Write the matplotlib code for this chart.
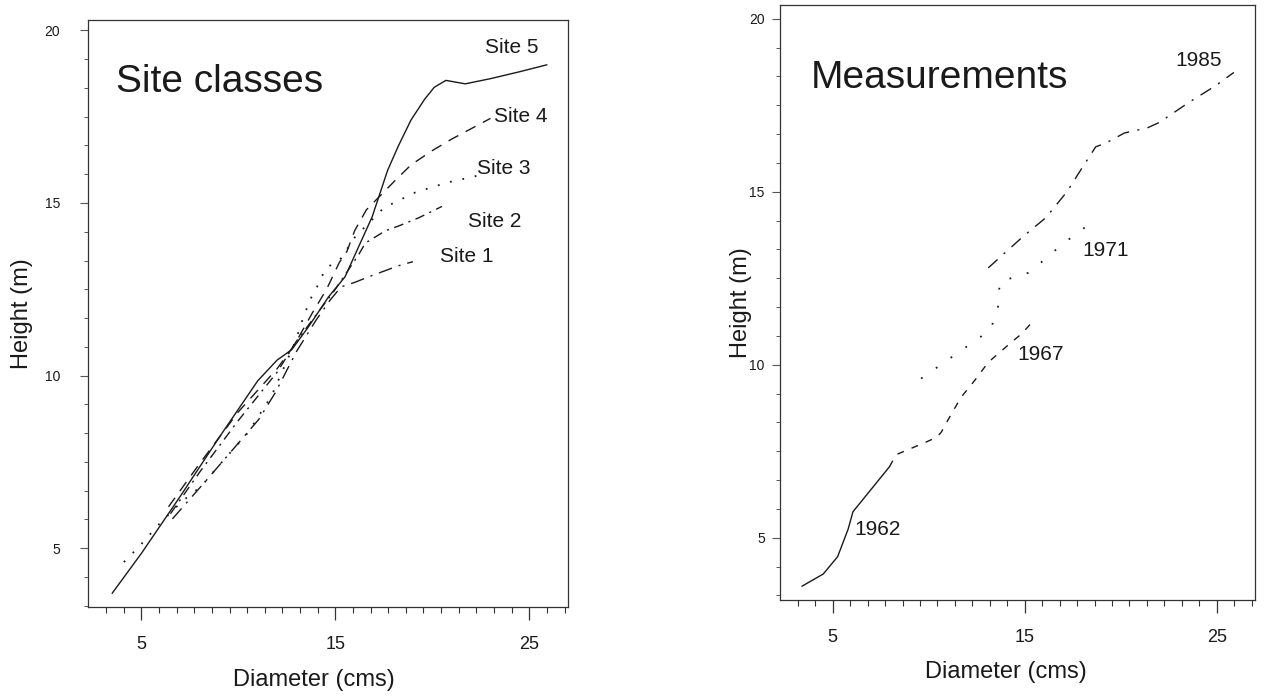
import numpy as np
import matplotlib
matplotlib.use('Agg')
import matplotlib.pyplot as plt
from matplotlib.ticker import FixedLocator

plt.rcParams['font.family'] = ['Liberation Sans', 'DejaVu Sans']

# --- Site classes (left panel) ---
site_names = ['Site 1', 'Site 2', 'Site 3', 'Site 4', 'Site 5']

site1_x = [6.6, 8.4, 11.05, 11.9, 13.0, 14.0, 14.75, 15.3, 16.0, 16.9, 18.25, 19.0]
site1_y = [5.85, 7.0, 8.73, 9.5, 10.7, 11.6, 12.2, 12.57, 12.7, 12.9, 13.18, 13.3]

site2_x = [6.5, 8.0, 10.0, 12.0, 13.0, 14.0, 15.0, 16.2, 16.55, 17.6, 18.25, 19.3, 20.5]
site2_y = [6.0, 7.2, 8.7, 10.1, 11.0, 11.75, 12.5, 13.5, 13.84, 14.2, 14.33, 14.57, 14.9]

site3_x = [4.1, 4.9, 6.0, 7.1, 8.1, 9.0, 10.5, 11.7, 12.95, 13.3, 13.7, 14.0, 14.5,
           15.3, 16.0, 17.5, 19.1, 20.7, 22.4]
site3_y = [4.6, 5.06, 5.75, 6.36, 6.8, 7.4, 8.35, 9.4, 11.0, 11.6, 12.2, 12.5, 13.1,
           13.4, 14.0, 14.86, 15.3, 15.58, 15.8]

site4_x = [6.4, 8.0, 10.0, 12.0, 12.9, 13.8, 14.55, 15.2, 15.6, 16.0, 16.6, 18.1,
           18.9, 19.95, 21.0, 23.0]
site4_y = [6.2, 7.45, 8.95, 10.2, 10.9, 11.8, 12.5, 13.27, 13.6, 14.2, 14.8, 15.66,
           16.1, 16.5, 16.85, 17.45]

site5_x = [3.5, 5.0, 7.0, 9.0, 11.0, 12.0, 12.75, 13.6, 14.65, 15.5, 16.2, 16.9,
           17.7, 18.25, 18.9, 19.6, 20.1, 20.7, 21.7, 23.0, 24.5, 25.9]
site5_y = [3.7, 4.85, 6.5, 8.2, 9.85, 10.45, 10.75, 11.4, 12.28, 12.86, 13.73, 14.6,
           15.95, 16.65, 17.4, 18.0, 18.35, 18.55, 18.45, 18.6, 18.8, 19.0]

# --- Measurements (right panel) ---
years = ['1962', '1967', '1971', '1985']

m1962_x = [3.4, 4.5, 5.25, 5.8, 6.05, 7.0, 7.95]
m1962_y = [3.6, 3.95, 4.45, 5.25, 5.75, 6.4, 7.05]

m1967_x = [7.95, 8.3, 9.24, 9.76, 10.4, 10.65, 11.2, 11.7, 12.4, 13.1, 14.2, 14.85, 15.5]
m1967_y = [7.05, 7.4, 7.62, 7.74, 7.9, 8.05, 8.6, 9.07, 9.55, 10.07, 10.6, 10.9, 11.3]

m1971_x = [9.6, 13.2, 13.6, 13.7, 15.26, 16.15, 17.0, 18.4]
m1971_y = [9.6, 11.0, 11.6, 12.4, 12.67, 13.1, 13.5, 14.08]

m1985_x = [13.1, 14.9, 16.1, 17.2, 18.0, 18.7, 19.2, 20.2, 21.4, 22.0, 23.6, 24.9, 25.9]
m1985_y = [12.8, 13.7, 14.25, 15.0, 15.7, 16.3, 16.4, 16.7, 16.85, 17.0, 17.6, 18.05, 18.45]

ink = '#1a1a1a'
fig = plt.figure(figsize=(12.7, 7.0), dpi=100)
fig.patch.set_facecolor('white')

ax1 = fig.add_axes([0.0693, 0.1329, 0.378, 0.8386])
ax2 = fig.add_axes([0.6142, 0.1429, 0.374, 0.850])


def style_axes(ax, ylim, ypad):
    ax.set_xlim(2.25, 27.0)
    ax.set_ylim(*ylim)
    for sp in ax.spines.values():
        sp.set_linewidth(0.9)
        sp.set_color('#333333')
    ax.set_xticks([5, 15, 25])
    ax.set_yticks([5, 10, 15, 20])
    ax.xaxis.set_minor_locator(FixedLocator(np.arange(5 - 2 * 10 / 11, 27, 10 / 11)))
    ax.yaxis.set_minor_locator(FixedLocator(np.arange(5 - 2 * 5 / 6, 20.5, 5 / 6)))
    ax.tick_params(axis='x', which='major', direction='out', length=9, width=0.9,
                   labelsize=13, pad=12, color='#333333', labelcolor=ink)
    ax.tick_params(axis='x', which='minor', direction='out', length=4, width=0.8,
                   color='#333333')
    ax.tick_params(axis='y', which='major', direction='out', length=6, width=0.8,
                   labelsize=10, pad=ypad, color='#555555', labelcolor=ink)
    ax.tick_params(axis='y', which='minor', direction='out', length=3, width=0.7,
                   color='#555555')
    ax.set_xlabel('Diameter (cms)', fontsize=17, color=ink, va='center')
    ax.set_ylabel('Height (m)', fontsize=17, color=ink, va='center')


style_axes(ax1, (3.3, 20.3), 14)
style_axes(ax2, (3.2, 20.4), 5)
ax1.xaxis.set_label_coords(0.47, -0.124)
ax1.yaxis.set_label_coords(-0.1375, 0.5)
ax2.xaxis.set_label_coords(0.476, -0.121)
ax2.yaxis.set_label_coords(-0.082, 0.5)

lw = 1.0
ax1.plot(site5_x, site5_y, color=ink, lw=lw, linestyle='-')
ax1.plot(site4_x, site4_y, color=ink, lw=lw, linestyle=(0, (8, 6)))
ax1.plot(site3_x, site3_y, color=ink, lw=1.3, linestyle=(0, (1, 6)))
ax1.plot(site2_x, site2_y, color=ink, lw=lw, linestyle=(0, (7, 4, 1.5, 4)))
ax1.plot(site1_x, site1_y, color=ink, lw=lw, linestyle=(0, (10, 5, 1.5, 5)))

site_label_pos = [(20.4, 13.45), (21.85, 14.45), (22.3, 16.0), (23.2, 17.5), (22.7, 19.5)]
for name, (lx, ly) in zip(site_names, site_label_pos):
    ax1.text(lx, ly, name, fontsize=15, color=ink, ha='left', va='center')
ax1.text(3.7, 18.5, 'Site classes', fontsize=28, color=ink, ha='left', va='center')

ax2.plot(m1962_x, m1962_y, color=ink, lw=lw, linestyle='-')
ax2.plot(m1967_x, m1967_y, color=ink, lw=lw, linestyle=(0, (5, 6)))
ax2.plot(m1971_x, m1971_y, color=ink, lw=1.3, linestyle=(0, (1, 9)))
ax2.plot(m1985_x, m1985_y, color=ink, lw=lw, linestyle=(0, (9, 6, 1.5, 6)))

year_label_pos = [(6.1, 5.25), (14.6, 10.3), (18.0, 13.3), (22.85, 18.8)]
for name, (lx, ly) in zip(years, year_label_pos):
    ax2.text(lx, ly, name, fontsize=15, color=ink, ha='left', va='center')
ax2.text(3.85, 18.3, 'Measurements', fontsize=28, color=ink, ha='left', va='center')

fig.savefig('out.png', dpi=100)
